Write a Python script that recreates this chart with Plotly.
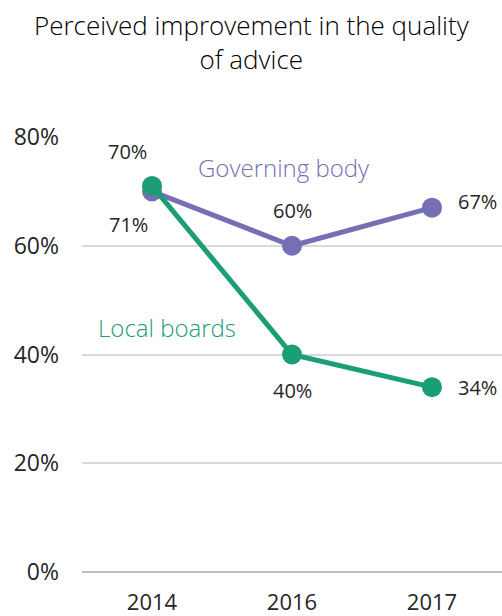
import plotly.graph_objects as go

# Survey results: share reporting an improvement in advice quality
years = ["2014", "2016", "2017"]
governing_body = [70, 60, 67]
local_boards = [71, 40, 34]
y_ticks = [0, 20, 40, 60, 80]
y_tick_labels = ["0%", "20%", "40%", "60%", "80%"]

PURPLE = "#7570b3"
GREEN = "#1b9e77"
FONT = "Open Sans"
TEXT = "#262626"

fig = go.Figure()
fig.add_trace(go.Scatter(
    x=years, y=governing_body, mode="lines+markers",
    line=dict(color=PURPLE, width=5),
    marker=dict(color=PURPLE, size=20),
    hoverinfo="skip", showlegend=False,
))
fig.add_trace(go.Scatter(
    x=years, y=local_boards, mode="lines+markers",
    line=dict(color=GREEN, width=5),
    marker=dict(color=GREEN, size=20),
    hoverinfo="skip", showlegend=False,
))

# value labels: (series, category index, xshift, yshift)
label_offsets = [
    (governing_body, 0, -25, 40),
    (governing_body, 1, 0, 35),
    (governing_body, 2, 45, 6),
    (local_boards, 0, -24, -39),
    (local_boards, 1, 0, -36),
    (local_boards, 2, 45, 0),
]
annotations = []
for series, i, dx, dy in label_offsets:
    annotations.append(dict(
        x=i, y=series[i], xref="x", yref="y",
        xanchor="center", yanchor="middle",
        text=f"{series[i]}%", showarrow=False,
        xshift=dx, yshift=dy,
        font=dict(family=FONT, size=20, color=TEXT),
    ))

# inline series names
annotations.append(dict(
    x=0.481, y=0.929, xref="paper", yref="paper", text="Governing body",
    xanchor="center", yanchor="middle", showarrow=False,
    font=dict(family=FONT, size=24, color=PURPLE, weight=300),
))
annotations.append(dict(
    x=0.202, y=0.563, xref="paper", yref="paper", text="Local boards",
    xanchor="center", yanchor="middle", showarrow=False,
    font=dict(family=FONT, size=24, color=GREEN, weight=300),
))

# chart title, two centred lines over the full width
annotations.append(dict(
    x=(251 - 82) / 420, y=1.218, xref="paper", yref="paper",
    xanchor="center", yanchor="middle",
    text="Perceived improvement in the quality<br>of advice",
    showarrow=False,
    font=dict(family=FONT, size=26, color="#000000", weight=300),
))

fig.update_layout(
    width=502, height=616,
    margin=dict(l=82, r=0, t=137, b=44),
    paper_bgcolor="white", plot_bgcolor="white",
    annotations=annotations,
    xaxis=dict(
        type="category", range=[-0.5, 2.5], automargin=False,
        showgrid=False, zeroline=False, showline=False, ticks="",
        tickfont=dict(family=FONT, size=22, color=TEXT),
        ticklabelstandoff=15,
    ),
    yaxis=dict(
        range=[0, 80], tickvals=y_ticks, ticktext=y_tick_labels,
        automargin=False,
        showgrid=True, gridcolor="#d9d9d9", gridwidth=2,
        zeroline=True, zerolinecolor="#bfbfbf", zerolinewidth=2,
        showline=False, ticks="",
        tickfont=dict(family=FONT, size=23, color=TEXT),
        ticklabelstandoff=22,
    ),
)

fig.write_html("out.html")
